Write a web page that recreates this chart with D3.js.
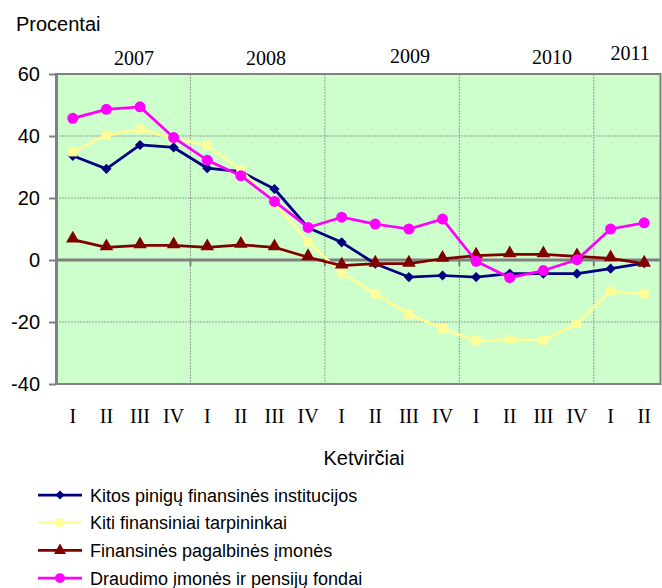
<!DOCTYPE html>
<html>
<head>
<meta charset="utf-8">
<script src="https://cdn.jsdelivr.net/npm/d3@7"></script>
<style>
  html, body { margin: 0; padding: 0; background: #ffffff; }
  svg { display: block; }
</style>
</head>
<body>
<script>
// ---- Data ----
const quarters = ["I","II","III","IV","I","II","III","IV","I","II","III","IV","I","II","III","IV","I","II"];
const years = ["2007","2008","2009","2010","2011"];
// year label anchor (in category units from the left edge of the axis)
const yearAnchor = [2.32, 6.25, 10.53, 14.76, 17.08];
const yearBaseline = [65, 65, 63, 63.5, 60];
const yTicks = [-40, -20, 0, 20, 40, 60];

const seriesNames = [
  "Kitos pinigų finansinės institucijos",
  "Kiti finansiniai tarpininkai",
  "Finansinės pagalbinės įmonės",
  "Draudimo įmonės ir pensijų fondai"
];
const kitosPinigu = [33.6, 29.4, 37.1, 36.3, 29.6, 28.5, 22.9, 10.4, 5.7, -1.2, -5.5, -5.0, -5.5, -4.4, -4.4, -4.4, -2.8, -1.0];
const kitiTarpininkai = [34.9, 40.2, 42.2, 39.3, 37.0, 29.0, 18.2, 5.9, -4.2, -10.9, -17.5, -22.1, -26.1, -25.6, -25.9, -20.5, -10.1, -10.9];
const pagalbines = [6.6, 4.1, 4.7, 4.7, 4.1, 4.9, 4.1, 0.9, -1.8, -1.2, -1.2, 0.4, 1.4, 1.8, 1.8, 1.2, 0.5, -1.2];
const draudimo = [45.7, 48.6, 49.4, 39.5, 32.2, 27.2, 18.9, 10.5, 13.8, 11.6, 10.0, 13.2, -0.4, -5.7, -3.4, 0.1, 10.0, 12.0];

const seriesValues = [kitosPinigu, kitiTarpininkai, pagalbines, draudimo];
const seriesColors = ["#000080", "#FFFF99", "#800000", "#FF00FF"];
const seriesSymbols = [d3.symbolSquare, d3.symbolSquare, d3.symbolTriangle, d3.symbolCircle];
const symbolRotate = [45, 0, 0, 0];
const symbolSizes = [52, 85, 80, 95];

// ---- Layout ----
const W = 662, H = 588;
const plot = { left: 56, right: 661, top: 74, bottom: 384 };
const sans = "'Liberation Sans', Arial, sans-serif";
const serif = "'Liberation Serif', 'Times New Roman', serif";

const svg = d3.select("body").append("svg").attr("width", W).attr("height", H);

const x = d3.scaleBand().domain(d3.range(quarters.length)).range([plot.left, plot.right]).padding(0);
const step = x.step();
const xc = i => x(i) + x.bandwidth() / 2;
const y = d3.scaleLinear().domain([-40, 60]).range([plot.bottom, plot.top]);

// Plot background
svg.append("rect")
  .attr("x", plot.left).attr("y", plot.top)
  .attr("width", plot.right - plot.left).attr("height", plot.bottom - plot.top)
  .attr("fill", "#CCFFCC");

// Horizontal grid
svg.append("g").selectAll("line")
  .data(yTicks.filter(t => t !== 0 && t !== 60 && t !== -40))
  .join("line")
  .attr("x1", plot.left).attr("x2", plot.right)
  .attr("y1", d => y(d)).attr("y2", d => y(d))
  .attr("stroke", "#9a9a9a").attr("stroke-width", 1).attr("stroke-dasharray", "2,1");

// Vertical grid at year boundaries
const yearBounds = [4, 8, 12, 16];
svg.append("g").selectAll("line")
  .data(yearBounds)
  .join("line")
  .attr("x1", d => x(d)).attr("x2", d => x(d))
  .attr("y1", plot.top).attr("y2", plot.bottom)
  .attr("stroke", "#9a9a9a").attr("stroke-width", 1).attr("stroke-dasharray", "2,1");

// Plot border
svg.append("rect")
  .attr("x", plot.left).attr("y", plot.top)
  .attr("width", plot.right - plot.left - 0.5).attr("height", plot.bottom - plot.top)
  .attr("fill", "none").attr("stroke", "#808080").attr("stroke-width", 2);

// Y axis
const yAxis = d3.axisLeft(y).tickValues(yTicks).tickSize(7).tickSizeOuter(0).tickPadding(9).tickFormat(d3.format("d"));
const gy = svg.append("g").attr("transform", `translate(${plot.left},0)`).call(yAxis);
gy.select(".domain").attr("stroke", "#808080").attr("stroke-width", 3);
gy.selectAll(".tick line").attr("stroke", "#808080").attr("stroke-width", 2);
gy.selectAll(".tick text")
  .attr("font-family", sans).attr("font-size", 20).attr("fill", "#000")
  .text(d => d < 0 ? "-" + Math.abs(d) : d);

// X axis at zero
const zeroAxis = svg.append("g");
zeroAxis.append("line")
  .attr("x1", plot.left).attr("x2", plot.right)
  .attr("y1", y(0)).attr("y2", y(0))
  .attr("stroke", "#808080").attr("stroke-width", 3);
zeroAxis.selectAll("line.tk")
  .data([0].concat(yearBounds))
  .join("line").attr("class", "tk")
  .attr("x1", d => x(d)).attr("x2", d => x(d))
  .attr("y1", y(0)).attr("y2", y(0) + 6)
  .attr("stroke", "#808080").attr("stroke-width", 2);

// Quarter labels
const xAxis = d3.axisBottom(x).tickSize(0).tickPadding(0).tickFormat(i => quarters[i]);
const gx = svg.append("g").attr("transform", `translate(0,${plot.bottom})`).call(xAxis);
gx.select(".domain").remove();
gx.selectAll(".tick text")
  .attr("font-family", serif).attr("font-size", 20).attr("fill", "#000")
  .attr("dy", null).attr("y", 39);

// Year labels
svg.append("g").selectAll("text")
  .data(years)
  .join("text")
  .attr("x", (d, i) => plot.left + yearAnchor[i] * step)
  .attr("y", (d, i) => yearBaseline[i])
  .attr("text-anchor", "middle")
  .attr("font-family", serif).attr("font-size", 20).attr("fill", "#000")
  .text(d => d);

// Titles
svg.append("text").attr("x", 16).attr("y", 31)
  .attr("font-family", sans).attr("font-size", 20).attr("fill", "#000")
  .text("Procentai");
svg.append("text").attr("x", 364).attr("y", 465).attr("text-anchor", "middle")
  .attr("font-family", sans).attr("font-size", 20).attr("fill", "#000")
  .text("Ketvirčiai");

// Series
const line = d3.line().x((d, i) => xc(i)).y(d => y(d));
seriesValues.forEach((vals, s) => {
  const g = svg.append("g");
  g.append("path").datum(vals)
    .attr("d", line)
    .attr("fill", "none")
    .attr("stroke", seriesColors[s])
    .attr("stroke-width", 2.75)
    .attr("stroke-linejoin", "round");
  const sym = d3.symbol().type(seriesSymbols[s]).size(symbolSizes[s]);
  g.selectAll("path.m").data(vals).join("path").attr("class", "m")
    .attr("d", sym)
    .attr("transform", (d, i) => `translate(${xc(i)},${y(d) + (s === 2 ? -1 : 0)}) rotate(${symbolRotate[s]})`)
    .attr("fill", seriesColors[s]);
});

// Legend
const legend = svg.append("g");
const legendY0 = 495, legendDy = 27.7;
seriesNames.forEach((name, s) => {
  const ly = legendY0 + s * legendDy;
  legend.append("line")
    .attr("x1", 38).attr("x2", 82).attr("y1", ly).attr("y2", ly)
    .attr("stroke", seriesColors[s]).attr("stroke-width", 2.75);
  legend.append("path")
    .attr("d", d3.symbol().type(seriesSymbols[s]).size(symbolSizes[s] * 0.8)())
    .attr("transform", `translate(60,${ly}) rotate(${symbolRotate[s]})`)
    .attr("fill", seriesColors[s]);
  legend.append("text")
    .attr("x", 90).attr("y", ly + 6.5)
    .attr("font-family", sans).attr("font-size", 18).attr("fill", "#000")
    .text(name);
});
</script>
</body>
</html>
